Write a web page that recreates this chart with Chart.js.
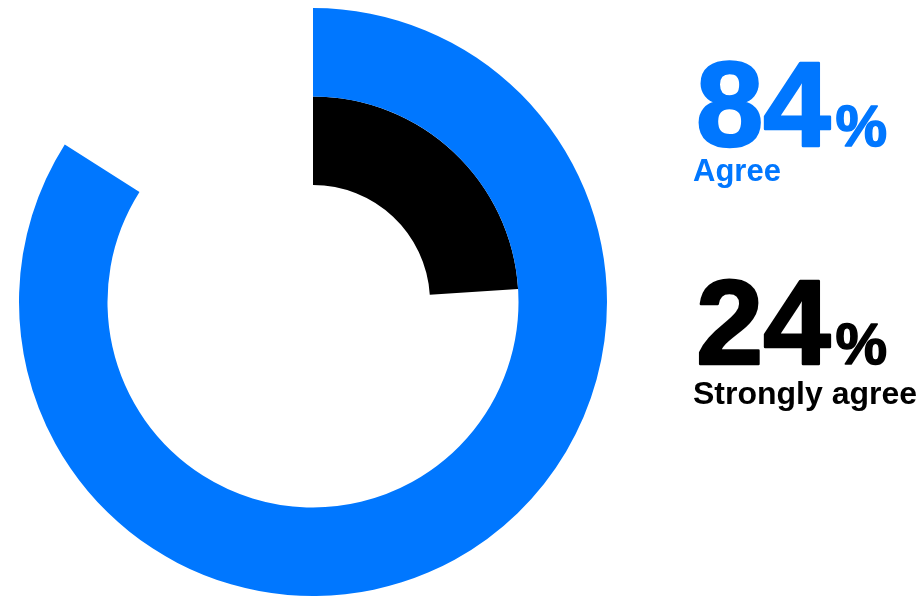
<!DOCTYPE html>
<html>
<head>
<meta charset="utf-8">
<script src="https://cdn.jsdelivr.net/npm/chart.js@4/dist/chart.umd.min.js"></script>
<style>
  html, body { margin: 0; padding: 0; background: #fff; }
  #wrap { width: 921px; height: 598px; position: relative; }
</style>
</head>
<body>
<div id="wrap"><canvas id="ringChart"></canvas></div>
<script>
// answers, outer ring first
const labels = ["Agree", "Strongly agree"];
const values = [84, 24];
const colors = ["#0077ff", "#000000"];

// each ring = value + transparent rest up to 100
const datasets = values.map((v, i) => ({
  label: labels[i],
  data: [v, 100 - v],
  backgroundColor: [colors[i], "rgba(0,0,0,0)"],
  borderWidth: 0,
  hoverOffset: 0
}));

// big percentage + caption on the right side
const sideText = {
  id: "sideText",
  afterDraw(chart) {
    const ctx = chart.ctx;
    const x = 696;
    const rows = [
      { numY: 146, capY: 181, capSize: 31 },
      { numY: 364, capY: 404, capSize: 32 }
    ];
    ctx.save();
    ctx.textAlign = "left";
    ctx.textBaseline = "alphabetic";
    ctx.lineJoin = "round";
    values.forEach((v, i) => {
      const r = rows[i];
      ctx.fillStyle = colors[i];
      ctx.strokeStyle = colors[i];
      // heavy numbers: fill + thin stroke to thicken the glyphs
      ctx.font = "bold 121px 'Liberation Sans', Arial, sans-serif";
      const num = String(v);
      ctx.lineWidth = 2.5;
      ctx.strokeText(num, x, r.numY);
      ctx.fillText(num, x, r.numY);
      const w = ctx.measureText(num).width;
      ctx.font = "bold 58px 'Liberation Sans', Arial, sans-serif";
      ctx.lineWidth = 1.5;
      ctx.strokeText("%", x + w + 5, r.numY);
      ctx.fillText("%", x + w + 5, r.numY);
      ctx.font = "bold " + r.capSize + "px 'Liberation Sans', Arial, sans-serif";
      ctx.fillText(labels[i], x - 3, r.capY);
    });
    ctx.restore();
  }
};

new Chart(document.getElementById("ringChart"), {
  type: "doughnut",
  data: { labels: ["value", "rest"], datasets },
  options: {
    responsive: true,
    maintainAspectRatio: false,
    animation: false,
    cutout: "39.8%",
    layout: { padding: { left: 19, top: 8, right: 314, bottom: 2 } },
    plugins: {
      legend: { display: false },
      tooltip: { enabled: false }
    }
  },
  plugins: [sideText]
});
</script>
</body>
</html>
